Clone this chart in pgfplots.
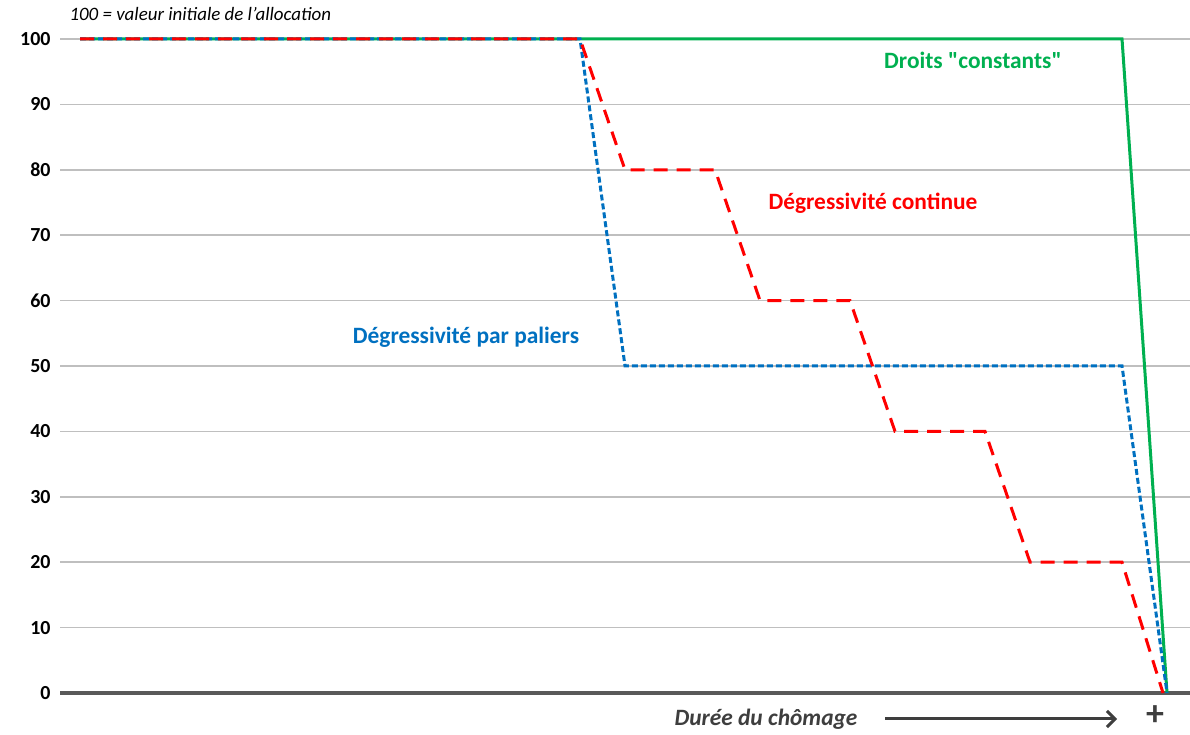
\documentclass[border=0pt]{standalone}
\usepackage{fontspec}
\setmainfont{Carlito}
\usepackage{pgfplots}
\pgfplotsset{compat=1.18}
\usetikzlibrary{arrows.meta}
\definecolor{vert}{RGB}{0,176,80}
\definecolor{rouge}{RGB}{255,0,0}
\definecolor{bleu}{RGB}{0,112,192}
\definecolor{grille}{RGB}{191,191,191}
\definecolor{axe}{RGB}{89,89,89}
\newcommand{\dq}{\XeTeXglyph\XeTeXcharglyph34\relax}
\begin{document}
\begin{tikzpicture}[x=1bp,y=1bp]
\useasboundingbox (0,0) rectangle (1190,735);
\begin{axis}[
  at={(60bp,42bp)}, anchor=south west,
  scale only axis, width=1130bp, height=654bp,
  xmin=60, xmax=1190, ymin=0, ymax=100,
  axis lines=left, axis line style={draw=none},
  ytick={0,10,...,100},
  xtick=\empty,
  ymajorgrids, grid style={grille, line width=1.5bp},
  major tick length=0pt,
  yticklabel style={font=\fontsize{20}{20}\selectfont\bfseries, anchor=east, xshift=-6bp},
  /pgf/number format/assume math mode=true,
  clip=false,
]
\draw[axe, line width=4bp] (axis cs:60,0) -- (axis cs:1190,0);
% droits constants
\addplot[vert, line width=3bp, mark=none] coordinates {(80,100) (1122,100) (1167,0)};
% paliers
\addplot[bleu, line width=3bp, mark=none, dash pattern=on 6bp off 3bp] coordinates {(80,100) (580,100) (625,50) (1122,50) (1167,0)};
% continue
\addplot[rouge, line width=3bp, mark=none, dash pattern=on 14bp off 9bp] coordinates {(80,100) (580,100) (625,80) (715,80) (760,60) (850,60) (895,40) (985,40) (1030,20) (1122,20) (1163,0)};
\end{axis}
\node[anchor=west, font=\fontsize{19}{19}\selectfont\itshape] at (66,721) {100 = valeur initiale de l'allocation};
\node[text=vert, font=\fontsize{23.5}{23.5}\selectfont\bfseries] at (973,675) {Droits \dq constants\dq};
\node[text=rouge, font=\fontsize{23.5}{23.5}\selectfont\bfseries] at (873,532) {Dégressivité continue};
\node[text=bleu, font=\fontsize{23.5}{23.5}\selectfont\bfseries] at (466,398) {Dégressivité par paliers};
\node[text=axe!70!black, font=\fontsize{23.5}{23.5}\selectfont\bfseries\itshape] at (766,16) {Durée du chômage};
\draw[axe!70!black, line width=3bp, -{Straight Barb[length=8bp,width=16bp]}] (885,16) -- (1117,16);
\node[text=axe!70!black, font=\fontsize{36}{36}\selectfont\bfseries, anchor=base, inner sep=0pt] at (1155,9.5) {+};
\end{tikzpicture}
\end{document}
